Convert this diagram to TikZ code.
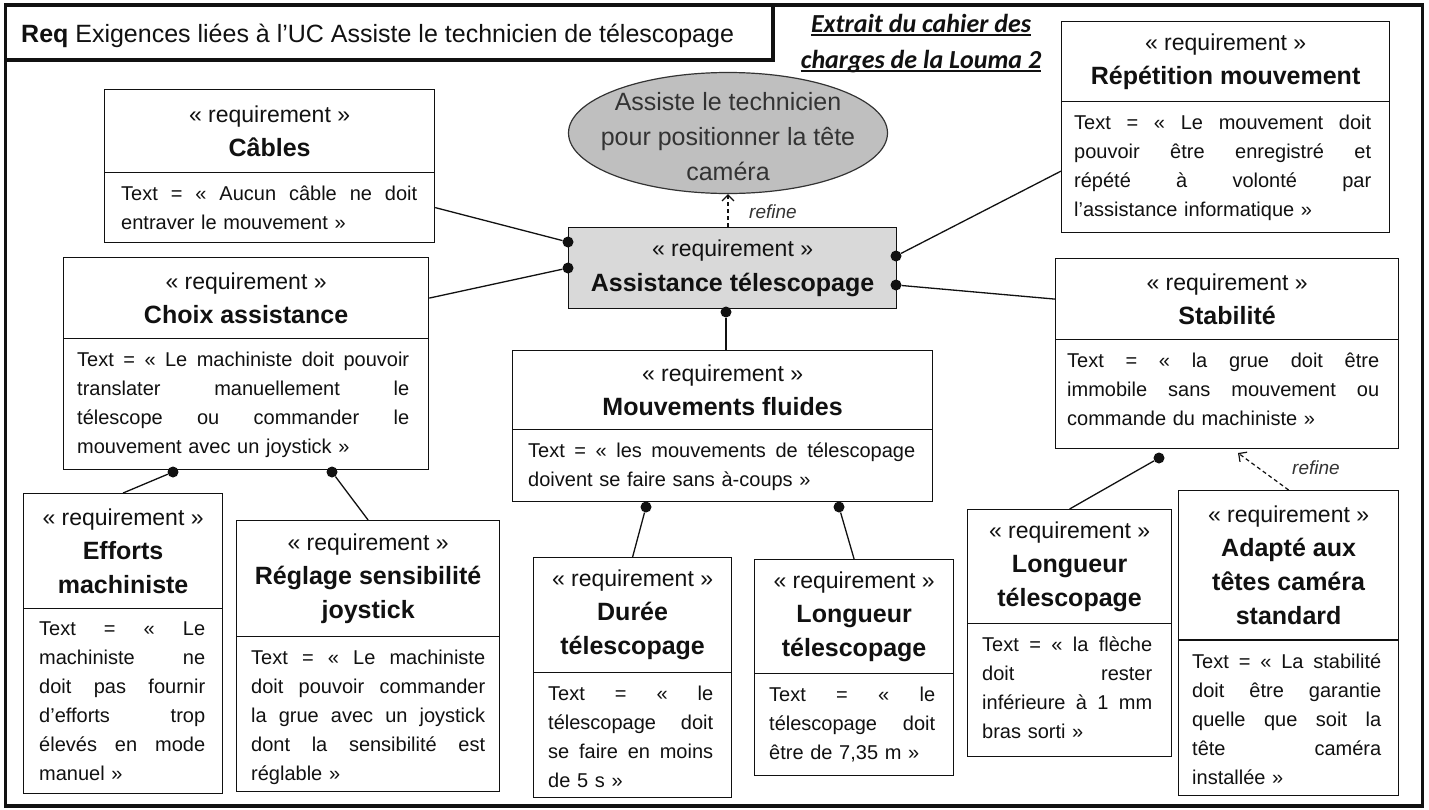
\documentclass[tikz,border=0pt]{standalone}
\usepackage{fontspec}
\setmainfont{Liberation Sans}
\newfontfamily\calib{Carlito}
\usetikzlibrary{shapes.geometric,arrows.meta,calc}
\definecolor{ink}{HTML}{111111}
\definecolor{ellfill}{HTML}{BFBFBF}
\definecolor{ctrfill}{HTML}{D9D9D9}
\definecolor{softink}{HTML}{333333}
\def\curw{100pt}
\newcommand\J[1]{\leavevmode\hbox to \curw{\spaceskip=0.278em plus 1fil\relax #1}\\}
\newcommand\reqbox[7]{%
  \node[reqhead, minimum width={#4-#2}, minimum height={#5-#3}, anchor=north west] (#1H) at (#2,#3)
    {{\fontsize{23}{34}\selectfont\mdseries « requirement »}\\#7};
  \node[reqbody, minimum width={#4-#2}, minimum height={#6-#5}, anchor=north west] (#1B) at (#2,#5) {};
}
\newcommand\reqtext[4]{%
  \gdef\curw{#3pt}%
  \node[reqtxt, text width=#3pt, anchor=north west] (#1T) at ([xshift=#2, yshift=-14]#1B.north west) {#4};
}
\begin{document}
\begin{tikzpicture}[x=1pt,y=-1pt,
  reqhead/.style={draw=ink, line width=1.2pt, fill=white, inner sep=0pt, align=center,
    font=\fontsize{25}{34}\selectfont\bfseries, text=ink},
  reqbody/.style={draw=ink, line width=1.2pt, fill=white, inner sep=0pt},
  reqtxt/.style={inner sep=0pt, align=left, font=\fontsize{20}{29}\selectfont, text=ink},
  dotn/.style={circle, fill=ink, inner sep=0pt, minimum size=11pt},
  conn/.style={draw=ink, line width=1.3pt},
  refarrow/.style={draw=ink, line width=1.2pt, dash pattern=on 4pt off 3pt,
    -{Straight Barb[length=6pt,width=12pt]}},
  reflabel/.style={font=\fontsize{19}{22}\selectfont\itshape, text=softink, inner sep=0pt},
  frame/.style={draw=ink, line width=3.5pt}
]
\useasboundingbox (0,0) rectangle (1429,809);
\fill[white] (0,0) rectangle (1429,809);
% frames
\draw[frame] (5.5,5) rectangle (1422.5,806);
\draw[frame] (5.5,5) rectangle (773,60);
\node[anchor=base west, inner sep=0pt, font=\fontsize{25}{30}\selectfont, text=ink] (title) at (21,42)
  {\textbf{Req} Exigences liées à l’UC Assiste le technicien de télescopage};
% extract note
\node[anchor=base, inner sep=0pt, font=\calib\fontsize{26}{30}\selectfont\bfseries\itshape, text=ink] (ext1) at (921,32) {Extrait du cahier des};
\node[anchor=base, inner sep=0pt, font=\calib\fontsize{26}{30}\selectfont\bfseries\itshape, text=ink] (ext2) at (921,68) {charges de la Louma 2};
\draw[ink, line width=1.4pt] ([yshift=-3]ext1.base west) -- ([yshift=-3]ext1.base east);
\draw[ink, line width=1.4pt] ([yshift=-3]ext2.base west) -- ([yshift=-3]ext2.base east);
% use case ellipse
\node[ellipse, draw=softink, line width=1.2pt, fill=ellfill, minimum width=319pt, minimum height=121pt, inner sep=0pt] (ell) at (728,133) {};
\node[align=center, inner sep=0pt, font=\fontsize{25}{35}\selectfont, text=softink] (ellT) at (728,137)
  {Assiste le technicien\\pour positionner la tête\\caméra};
% central requirement
\node[draw=ink, line width=1.2pt, fill=ctrfill, inner sep=0pt, align=center, minimum width=328pt, minimum height=81pt,
  anchor=north west, font=\fontsize{25}{35}\selectfont\bfseries, text=ink] (ctr) at (568,227)
  {{\fontsize{23}{35}\selectfont\mdseries « requirement »}\\Assistance télescopage};
\draw[refarrow] (ctr.north -| ell.south) -- (ell.south);
\node[reflabel, anchor=west] (ref1) at (749,212) {refine};
% requirement boxes
\reqbox{cab}{104}{89}{434}{172}{242}{Câbles}
\reqtext{cab}{17}{296}{\J{Text = « Aucun câble ne doit}entraver le mouvement »}
\reqbox{cho}{63}{257}{428}{338}{469}{Choix assistance}
\reqtext{cho}{14}{332}{\J{Text = « Le machiniste doit pouvoir}\J{translater manuellement le}\J{télescope ou commander le}mouvement avec un joystick »}
\reqbox{rep}{1061}{21}{1389}{101}{232}{Répétition mouvement}
\reqtext{rep}{13}{297}{\J{Text = « Le mouvement doit}\J{pouvoir être enregistré et}\J{répété à volonté par}l’assistance informatique »}
\reqbox{sta}{1055}{258}{1398}{339}{448}{Stabilité}
\reqtext{sta}{12}{312}{\J{Text = « la grue doit être}\J{immobile sans mouvement ou}commande du machiniste »}
\reqbox{mou}{512}{350}{932}{429}{501}{Mouvements fluides}
\reqtext{mou}{16}{387}{\J{Text = « les mouvements de télescopage}doivent se faire sans à-coups »}
\reqbox{eff}{23}{493}{222}{608}{793}{Efforts\\machiniste}
\reqtext{eff}{16}{166}{\J{Text = « Le}\J{machiniste ne}\J{doit pas fournir}\J{d’efforts trop}\J{élevés en mode}manuel »}
\reqbox{reg}{236}{520}{499}{636}{791}{Réglage sensibilité\\joystick}
\reqtext{reg}{15}{234}{\J{Text = « Le machiniste}\J{doit pouvoir commander}\J{la grue avec un joystick}\J{dont la sensibilité est}réglable »}
\reqbox{dur}{533}{557}{731}{672}{797}{Durée\\télescopage}
\reqtext{dur}{15}{165}{\J{Text = « le}\J{télescopage doit}\J{se faire en moins}de 5 s »}
\reqbox{lom}{754}{559}{953}{673}{775}{Longueur\\télescopage}
\reqtext{lom}{15}{166}{\J{Text = « le}\J{télescopage doit}être de 7,35 m »}
\reqbox{lor}{967}{509}{1171}{623}{756}{Longueur\\télescopage}
\reqtext{lor}{15}{170}{\J{Text = « la flèche}\J{doit rester}\J{inférieure à 1 mm}bras sorti »}
\reqbox{ada}{1178}{490}{1398}{640}{795}{Adapté aux\\têtes caméra\\standard}
\reqtext{ada}{14}{189}{\J{Text = « La stabilité}\J{doit être garantie}\J{quelle que soit la}\J{tête caméra}installée »}
\draw[ink, line width=2.2pt] (adaB.north west) -- (adaB.north east);
% dots and connectors
\node[dotn] (d1) at (568,242) {};
\node[dotn] (d2) at (568,268) {};
\node[dotn] (d3) at (896,256) {};
\node[dotn] (d4) at (896,285) {};
\node[dotn] (d5) at (726,312) {};
\node[dotn] (d6) at (173,472) {};
\node[dotn] (d7) at (332,472) {};
\node[dotn] (d8) at (646,507) {};
\node[dotn] (d9) at (839,507) {};
\node[dotn] (d10) at (1159,458) {};
\draw[conn] (d1) -- (cabB.east);
\draw[conn] (d2) -- (choH.east);
\draw[conn] (d3) -- ([yshift=-4]repB.west);
\draw[conn] (d4) -- (staH.west);
\draw[conn] (d5) -- (d5 |- mouH.north);
\draw[conn] (d6) -- (effH.north);
\draw[conn] (d7) -- (regH.north);
\draw[conn] (d8) -- (durH.north);
\draw[conn] (d9) -- (lomH.north);
\draw[conn] (d10) -- (lorH.north);
\coordinate (rf2) at (1238,453);
\draw[refarrow] (adaH.north) -- (rf2);
\node[reflabel, anchor=west] (ref2) at (1292,468) {refine};
\end{tikzpicture}
\end{document}
